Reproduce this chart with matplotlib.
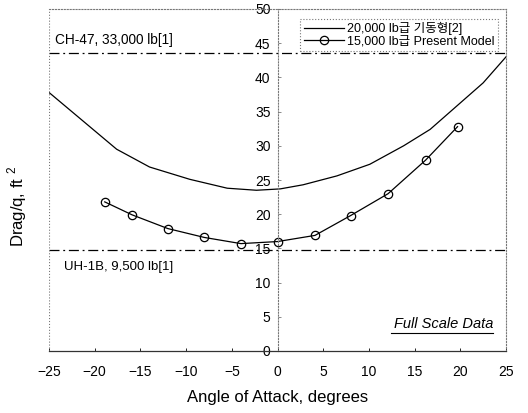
import matplotlib
matplotlib.use("Agg")
import matplotlib.pyplot as plt

plt.rcParams['font.family'] = ['Liberation Sans', 'Noto Sans CJK KR', 'DejaVu Sans']
plt.rcParams['mathtext.fontset'] = 'custom'
plt.rcParams['mathtext.rm'] = 'Liberation Sans'

# Data
ref_x = [-25, -17.6, -14, -9.6, -5.5, -2.3, 0.3, 2.8, 6.5, 10.1, 13.8, 16.7, 19.6, 22.5, 25]
ref_y = [37.8, 29.5, 26.9, 25.1, 23.8, 23.5, 23.7, 24.3, 25.6, 27.3, 30.0, 32.4, 35.8, 39.2, 43.0]
model_x = [-18.9, -15.9, -12.0, -8.0, -4.0, 0.0, 4.1, 8.0, 12.1, 16.2, 19.7]
model_y = [21.8, 19.9, 17.9, 16.6, 15.7, 16.0, 16.9, 19.8, 23.0, 27.9, 32.8]
ch47_level = 43.5
uh1b_level = 14.7
label_ref = "20,000 lb급 기동형[2]"
label_model = "15,000 lb급 Present Model"
x_ticks = [-25, -20, -15, -10, -5, 0, 5, 10, 15, 20, 25]
y_ticks = [0, 5, 10, 15, 20, 25, 30, 35, 40, 45, 50]

fig = plt.figure(figsize=(5.28, 4.13), dpi=100)
ax = fig.add_axes([49/528, 62/413, 457/528, 342/413])

ax.plot(ref_x, ref_y, color='black', lw=0.9, label=label_ref)
ax.plot(model_x, model_y, color='black', lw=0.9, marker='o', markersize=6,
        markerfacecolor='none', markeredgewidth=0.9, label=label_model)

ax.axhline(ch47_level, color='black', lw=0.9, ls=(0, (8, 3, 1.5, 3)))
ax.axhline(uh1b_level, color='black', lw=0.9, ls=(0, (8, 3, 1.5, 3)))

ax.set_xlim(-25, 25)
ax.set_ylim(0, 50)

for s in ['top', 'right']:
    ax.spines[s].set_linestyle(':')
    ax.spines[s].set_color('#777777')
    ax.spines[s].set_linewidth(0.8)
ax.spines['bottom'].set_color('#333333')
ax.spines['bottom'].set_linewidth(0.9)
ax.spines['left'].set_position(('data', 0))
ax.spines['left'].set_linestyle(':')
ax.spines['left'].set_color('#777777')
ax.spines['left'].set_linewidth(0.8)
ax.axvline(-25, color='#777777', lw=0.8, ls=':')

ax.set_xticks(x_ticks)
ax.set_yticks(y_ticks)
ax.tick_params(axis='x', direction='in', length=2, width=0.6, pad=10, labelsize=10)
ax.tick_params(axis='y', direction='in', length=2, width=0.6, pad=5, labelsize=10, color='#777777')
ax.set_xticklabels([str(t).replace('-', '\u2212') for t in x_ticks])

ax.set_xlabel('Angle of Attack, degrees', fontsize=12, labelpad=8)
fig.text(17/528, 0.5 + 0.0, 'Drag/q, ft $^{2}$', rotation=90, fontsize=12,
         ha='center', va='center')

ax.text(-24.3, 44.5, 'CH-47, 33,000 lb[1]', fontsize=9.8, ha='left', va='bottom')
ax.text(-23.4, 12.3, 'UH-1B, 9,500 lb[1]', fontsize=9.5, ha='left', va='center')
ax.text(23.6, 3.9, 'Full Scale Data', fontsize=10.5, style='italic', ha='right',
        va='center')
ax.plot([12.4, 23.6], [2.6, 2.6], color='black', lw=0.8)

leg = ax.legend(loc='upper right', fontsize=9, frameon=True, fancybox=False,
                handlelength=3.2, borderpad=0.25, labelspacing=0.05,
                handletextpad=0.3, bbox_to_anchor=(0.996, 0.99))
leg.get_frame().set_edgecolor('#555555')
leg.get_frame().set_linestyle(':')
leg.get_frame().set_linewidth(0.8)

fig.savefig('out.png', dpi=100)
